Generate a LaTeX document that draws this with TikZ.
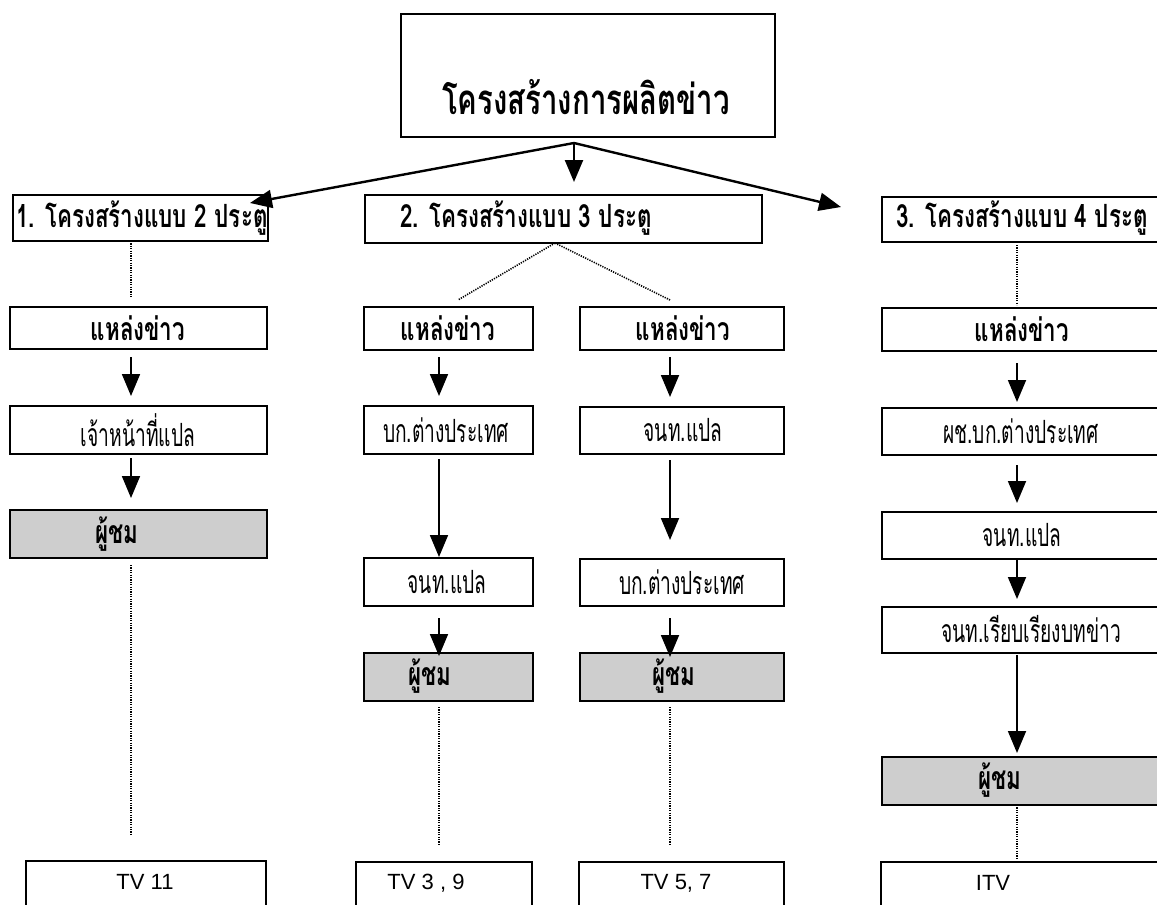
\documentclass[tikz,border=0pt]{standalone}
\usepackage{fontspec}
\setmainfont{Liberation Sans}
\newfontfamily\thaifont[Script=Thai, FakeStretch=0.7]{Loma}
\newfontfamily\thainarrow[Script=Thai, FakeStretch=0.6]{Loma}
\usetikzlibrary{arrows.meta,calc}
\definecolor{tone}{RGB}{206,206,206}

% box given by its corners: name, x1, y1, x2, y2, style
\newcommand\mkbox[6]{%
  \node[#6, minimum width={#4-#2}, minimum height={#5-#3}] (#1) at ({(#2+#4)/2},{(#3+#5)/2}) {};}

\tikzset{
  box/.style={draw=black, line width=1.7pt, inner sep=0pt, outer sep=0pt},
  shadebox/.style={box, fill=tone},
  lab/.style={inner sep=0pt, font={\thainarrow\fontsize{32}{36}\selectfont}},
  blab/.style={inner sep=0pt, font={\thaifont\bfseries\fontsize{32}{36}\selectfont}},
  ttl/.style={inner sep=0pt, font={\thaifont\bfseries\fontsize{42}{46}\selectfont}},
  tvlab/.style={inner sep=0pt, font={\fontsize{22}{26}\selectfont}},
  arr/.style={line width=1.8pt, -{Triangle[length=22pt,width=18pt]}},
  bigarr/.style={line width=2.4pt, -{Triangle[length=22pt,width=18pt]}},
  dots/.style={line width=1.6pt, dash pattern=on 1.2pt off 1.2pt},
}

\begin{document}
\begin{tikzpicture}[x=1pt,y=-1pt]
\useasboundingbox (0,0) rectangle (1157,905);
\clip (0,0) rectangle (1157,905);

% column axes
\coordinate (c1) at (131,0);
\coordinate (c2) at (439,0);
\coordinate (c3) at (670,0);
\coordinate (c4) at (1017,0);

% title
\mkbox{T}{401}{14}{775}{137}{box}
\node[ttl] (T-t) at (586,97) {โครงสร้างการผลิตข่าว};

% the three structures
\mkbox{B1}{13}{195}{268}{241}{box}
\node[blab] (B1-t) at (142,218) {1. โครงสร้างแบบ 2 ประตู};
\mkbox{B2}{365}{195}{762}{243}{box}
\node[blab] (B2-t) at (526,218) {2. โครงสร้างแบบ 3 ประตู};
\mkbox{B3}{882}{197}{1175}{242}{box}
\node[blab] (B3-t) at (1022,218) {3. โครงสร้างแบบ 4 ประตู};

\coordinate (apex) at (574,143);
\draw[bigarr] (apex) -- ([xshift=-18pt,yshift=-8pt]B1.north east);
\draw[bigarr, shorten >=13pt] (apex) -- (apex |- B2.north);
\draw[bigarr] (apex) -- ([xshift=-41pt,yshift=-10pt]B3.north west);

% column 1
\mkbox{S1}{10}{307}{267}{349}{box}
\node[blab] (S1-t) at (138,328) {แหล่งข่าว};
\mkbox{R1}{10}{406}{267}{454}{box}
\node[lab] (R1-t) at (138,430) {เจ้าหน้าที่แปล};
\mkbox{V1}{10}{510}{267}{558}{shadebox}
\node[blab] (V1-t) at (117,534) {ผู้ชม};
\mkbox{TV1}{26}{861}{266}{930}{box}
\node[tvlab] (TV1-t) at (145,882) {TV 11};

\draw[dots, shorten >=9pt] (B1.south -| c1) -- (S1.north -| c1);
\draw[arr, shorten <=8pt, shorten >=10pt] (S1.south -| c1) -- (R1.north -| c1);
\draw[arr, shorten <=4pt, shorten >=12pt] (R1.south -| c1) -- (V1.north -| c1);
\draw[dots, shorten <=7pt, shorten >=26pt] (V1.south -| c1) -- (TV1.north -| c1);

% column 2
\coordinate (fork) at (555,243);
\coordinate (f2) at (458,300);
\coordinate (f3) at (670,300);
\draw[dots] (fork) -- (f2);
\draw[dots] (fork) -- (f3);

\mkbox{S2}{364}{307}{533}{350}{box}
\node[blab] (S2-t) at (448,328) {แหล่งข่าว};
\mkbox{R2}{364}{406}{533}{454}{box}
\node[lab] (R2-t) at (446,430) {บก.ต่างประเทศ};
\mkbox{Q2}{364}{558}{533}{606}{box}
\node[lab] (Q2-t) at (447,582) {จนท.แปล};
\mkbox{V2}{364}{653}{533}{701}{shadebox}
\node[blab] (V2-t) at (430,676) {ผู้ชม};
\mkbox{TV2}{356}{862}{532}{930}{box}
\node[tvlab] (TV2-t) at (426,883) {TV 3 , 9};

\draw[arr, shorten <=7pt, shorten >=10pt] (S2.south -| c2) -- (R2.north -| c2);
\draw[arr, shorten <=5pt, shorten >=1pt] (R2.south -| c2) -- (Q2.north -| c2);
\draw[arr, shorten <=12pt, shorten >=-3pt] (Q2.south -| c2) -- (V2.north -| c2);
\draw[dots, shorten <=6pt, shorten >=17pt] (V2.south -| c2) -- (TV2.north -| c2);

% column 3
\mkbox{S3}{580}{307}{784}{350}{box}
\node[blab] (S3-t) at (683,328) {แหล่งข่าว};
\mkbox{R3}{580}{407}{784}{454}{box}
\node[lab] (R3-t) at (683,430) {จนท.แปล};
\mkbox{Q3}{580}{559}{784}{606}{box}
\node[lab] (Q3-t) at (682,582) {บก.ต่างประเทศ};
\mkbox{V3}{580}{653}{784}{701}{shadebox}
\node[blab] (V3-t) at (674,676) {ผู้ชม};
\mkbox{TV3}{579}{862}{784}{930}{box}
\node[tvlab] (TV3-t) at (676,883) {TV 5, 7};

\draw[arr, shorten <=7pt, shorten >=10pt] (S3.south -| c3) -- (R3.north -| c3);
\draw[arr, shorten <=6pt, shorten >=19pt] (R3.south -| c3) -- (Q3.north -| c3);
\draw[arr, shorten <=12pt, shorten >=-4pt] (Q3.south -| c3) -- (V3.north -| c3);
\draw[dots, shorten <=6pt, shorten >=18pt] (V3.south -| c3) -- (TV3.north -| c3);

% column 4
\mkbox{S4}{882}{308}{1175}{351}{box}
\node[blab] (S4-t) at (1022,329) {แหล่งข่าว};
\mkbox{R4}{882}{408}{1175}{455}{box}
\node[lab] (R4-t) at (1021,431) {ผช.บก.ต่างประเทศ};
\mkbox{P4}{882}{512}{1175}{559}{box}
\node[lab] (P4-t) at (1022,535) {จนท.แปล};
\mkbox{Q4}{882}{607}{1175}{653}{box}
\node[lab] (Q4-t) at (1031,629) {จนท.เรียบเรียงบทข่าว};
\mkbox{V4}{882}{757}{1175}{805}{shadebox}
\node[blab] (V4-t) at (1000,780) {ผู้ชม};
\mkbox{TV4}{881}{862}{1175}{930}{box}
\node[tvlab] (TV4-t) at (993,883) {ITV};

\draw[dots, shorten <=3pt, shorten >=3pt] (B3.south -| c4) -- (S4.north -| c4);
\draw[arr, shorten <=12pt, shorten >=6pt] (S4.south -| c4) -- (R4.north -| c4);
\draw[arr, shorten <=10pt, shorten >=9pt] (R4.south -| c4) -- (P4.north -| c4);
\draw[arr, shorten <=1pt, shorten >=8pt] (P4.south -| c4) -- (Q4.north -| c4);
\draw[arr, shorten <=2pt, shorten >=4pt] (Q4.south -| c4) -- (V4.north -| c4);
\draw[dots, shorten >=4pt] (V4.south -| c4) -- (TV4.north -| c4);
\end{tikzpicture}
\end{document}
